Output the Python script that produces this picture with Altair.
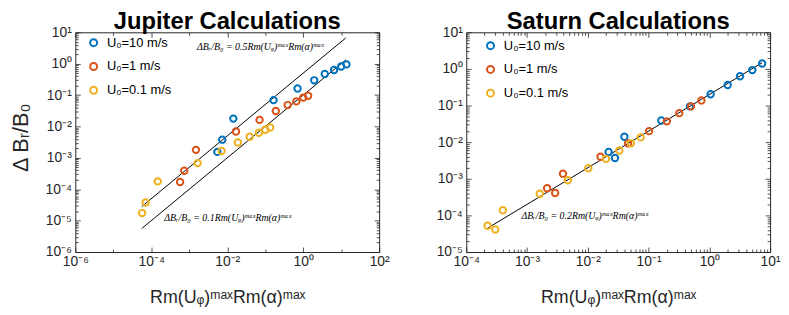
import altair as alt
import pandas as pd

# ---------------- data ----------------
series = ["U\u2080=10 m/s", "U\u2080=1 m/s", "U\u2080=0.1 m/s"]
colors = ["#0072BD", "#D95319", "#EDB120"]

# Jupiter
jup_x_10 = [5.5e-3, 7.4e-3, 1.45e-2, 0.166, 0.71, 1.95, 3.7, 6.5, 10.0, 13.8]
jup_y_10 = [1.55e-3, 3.8e-3, 1.78e-2, 6.9e-2, 0.162, 0.295, 0.468, 0.63, 0.81, 0.95]
jup_x_1 = [1.5e-3, 7.4e-4, 5.75e-4, 1.7e-2, 7.1e-2, 0.19, 0.39, 0.66, 1.0, 1.35]
jup_y_1 = [1.8e-3, 3.9e-4, 1.7e-4, 6.9e-3, 1.62e-2, 3.1e-2, 4.8e-2, 6.3e-2, 8.3e-2, 9.5e-2]
jup_x_01 = [5.75e-5, 7.1e-5, 1.48e-4, 1.66e-3, 7.1e-3, 1.9e-2, 3.9e-2, 6.8e-2, 0.1, 0.135]
jup_y_01 = [1.74e-5, 3.8e-5, 1.78e-4, 6.8e-4, 1.66e-3, 3.1e-3, 4.7e-3, 6.3e-3, 7.9e-3, 9.3e-3]

# Saturn
sat_x_10 = [2.2e-2, 2.8e-2, 4.0e-2, 0.162, 0.48, 1.05, 2.0, 3.2, 5.1, 7.4]
sat_y_10 = [5.4e-3, 3.7e-3, 1.4e-2, 3.9e-2, 9.5e-2, 0.204, 0.363, 0.63, 0.93, 1.41]
sat_x_1 = [2.14e-3, 2.9e-3, 3.9e-3, 1.62e-2, 4.6e-2, 0.102, 0.2, 0.32, 0.5, 0.74]
sat_y_1 = [5.5e-4, 4.1e-4, 1.38e-3, 4.0e-3, 9.3e-3, 2.0e-2, 3.7e-2, 6.2e-2, 9.5e-2, 0.138]
sat_x_01 = [2.24e-4, 3.0e-4, 4.0e-4, 1.62e-3, 4.7e-3, 1.02e-2, 2.0e-2, 3.3e-2, 5.1e-2, 7.4e-2]
sat_y_01 = [5.2e-5, 4.1e-5, 1.38e-4, 3.9e-4, 9.1e-4, 1.95e-3, 3.5e-3, 5.9e-3, 9.3e-3, 1.35e-2]

# fit lines: y = coef * x over [x_start, x_end]
jup_fit_coef = [0.5, 0.1]
jup_fit_x = [5.6e-5, 13.2]
sat_fit_coef = [0.2]
sat_fit_x = [2.24e-4, 7.4]

# annotation texts
ann_05 = "\u0394B\u1d63/B\u2080 = 0.5Rm(U\u1d69)\u1d50\u1d43\u02e3Rm(\u03b1)\u1d50\u1d43\u02e3"
ann_01 = "\u0394B\u1d63/B\u2080 = 0.1Rm(U\u1d69)\u1d50\u1d43\u02e3Rm(\u03b1)\u1d50\u1d43\u02e3"
ann_02 = "\u0394B\u1d63/B\u2080 = 0.2Rm(U\u1d69)\u1d50\u1d43\u02e3Rm(\u03b1)\u1d50\u1d43\u02e3"
jup_ann_text = [ann_05, ann_01]
jup_ann_x = [1.6e-3, 2.2e-4]
jup_ann_y = [3.5, 1.2e-5]
sat_ann_text = [ann_02]
sat_ann_x = [8.1e-4]
sat_ann_y = [9.5e-5]

titles = ["Jupiter Calculations", "Saturn Calculations"]
x_title = "Rm(U\u1d69)\u1d50\u1d43\u02e3Rm(\u03b1)\u1d50\u1d43\u02e3"
y_title = "\u0394 B\u1d63/B\u2080"

FONT = "Liberation Sans"
AX = "#262626"

SUP = {"-": "\u207b", "0": "\u2070", "1": "\u00b9", "2": "\u00b2", "3": "\u00b3",
       "4": "\u2074", "5": "\u2075", "6": "\u2076", "7": "\u2077", "8": "\u2078", "9": "\u2079"}


def sup(n):
    return "".join(SUP[c] for c in str(n))


def label_expr(exps):
    e = "round(log(datum.value)/LN10)"
    s = "''"
    for k in reversed(exps):
        s = f"{e} == {k} ? '10{sup(k)}' : ({s})"
    return s


def pts_df(xs_list, ys_list):
    rows = []
    for name, xs, ys in zip(series, xs_list, ys_list):
        for x, y in zip(xs, ys):
            rows.append({"x": x, "y": y, "series": name})
    return pd.DataFrame(rows)


def line_df(coefs, xr):
    rows = []
    for i, c in enumerate(coefs):
        for x in xr:
            rows.append({"x": x, "y": c * x, "fit": i})
    return pd.DataFrame(rows)


def minors(lo, hi):
    out = []
    for k in range(lo, hi):
        for m in range(2, 10):
            out.append(m * 10.0 ** k)
    return out


def major_axis(orient, exps, labels, title=None, labelpad=3, titlepad=6, title_size=16, title_y=None):
    vals = [10.0 ** k for k in exps]
    kw = dict(orient=orient, values=vals, tickSize=5, offset=-5, domain=False, grid=False,
              tickColor=AX, tickWidth=0.8, labels=labels, labelOverlap=False, labelFlush=False,
              labelBound=False)
    if labels:
        kw.update(labelExpr=label_expr(exps), labelFont=FONT, labelFontSize=14,
                  labelColor=AX, labelPadding=labelpad)
    if title:
        kw.update(title=title, titleFont=FONT, titleFontSize=title_size, titleFontWeight="normal",
                  titleColor=AX, titlePadding=titlepad)
        if title_y is not None:
            kw.update(titleY=title_y)
    else:
        kw.update(title=None)
    return alt.Axis(**kw)


def minor_axis(orient, vals):
    return alt.Axis(orient=orient, values=vals, tickSize=3, offset=-3, domain=False, grid=False,
                    tickColor=AX, tickWidth=0.8, labels=False, title=None)


def panel(pts, lines, ann, xdom, ydom, xmaj, xmin_vals, ymaj, ymin_vals, title, show_ytitle,
          leg_x, leg_y, w, h):
    xs = alt.Scale(type="log", domain=xdom, nice=False)
    ys = alt.Scale(type="log", domain=ydom, nice=False)

    points = alt.Chart(pts).mark_point(shape="circle", filled=False, size=42, strokeWidth=2, opacity=1).encode(
        x=alt.X("x:Q", scale=xs, axis=major_axis("bottom", xmaj, True, x_title, 3, 20, 18)),
        y=alt.Y("y:Q", scale=ys, axis=major_axis("left", ymaj, True,
                                                  y_title if show_ytitle else None, 4, 13, 22, 106)),
        color=alt.Color("series:N", scale=alt.Scale(domain=series, range=colors),
                        legend=alt.Legend(title=None, orient="none", legendX=leg_x, legendY=leg_y,
                                          symbolType="circle", symbolSize=50, symbolStrokeWidth=2,
                                          symbolFillColor="transparent",
                                          labelFont=FONT, labelFontSize=13, labelColor="#000",
                                          rowPadding=7, labelOffset=7, padding=0)),
    )

    fit = alt.Chart(lines).mark_line(color="black", strokeWidth=1).encode(
        x=alt.X("x:Q", scale=xs, axis=major_axis("top", xmaj, False)),
        y=alt.Y("y:Q", scale=ys, axis=major_axis("right", ymaj, False)),
        detail="fit:N",
    )

    text = alt.Chart(ann).mark_text(align="left", baseline="middle", font="Liberation Serif",
                                     fontStyle="italic", fontSize=10, color="black").encode(
        x=alt.X("x:Q", scale=xs, axis=minor_axis("bottom", xmin_vals)),
        y=alt.Y("y:Q", scale=ys, axis=minor_axis("left", ymin_vals)),
        text="text:N",
    )

    ghost = alt.Chart(lines).mark_line(opacity=0).encode(
        x=alt.X("x:Q", scale=xs, axis=minor_axis("top", xmin_vals)),
        y=alt.Y("y:Q", scale=ys, axis=minor_axis("right", ymin_vals)),
        detail="fit:N",
    )

    ttl = alt.Chart(pd.DataFrame({"t": [title]})).mark_text(
        align="center", baseline="alphabetic", font=FONT, fontSize=24, fontWeight="bold", color="black"
    ).encode(x=alt.value(w / 2), y=alt.value(-3), text="t:N")

    return alt.layer(fit, ghost, text, points, ttl).resolve_axis(
        x="independent", y="independent").properties(width=w, height=h)


jup_pts = pts_df([jup_x_10, jup_x_1, jup_x_01], [jup_y_10, jup_y_1, jup_y_01])
sat_pts = pts_df([sat_x_10, sat_x_1, sat_x_01], [sat_y_10, sat_y_1, sat_y_01])
jup_lines = line_df(jup_fit_coef, jup_fit_x)
sat_lines = line_df(sat_fit_coef, sat_fit_x)
jup_ann = pd.DataFrame({"x": jup_ann_x, "y": jup_ann_y, "text": jup_ann_text})
sat_ann = pd.DataFrame({"x": sat_ann_x, "y": sat_ann_y, "text": sat_ann_text})

left = panel(jup_pts, jup_lines, jup_ann, [1e-6, 1e2], [1e-6, 1e1],
             [-6, -4, -2, 0, 2], [1e-5, 1e-3, 1e-1, 1e1],
             [-6, -5, -4, -3, -2, -1, 0, 1], minors(-6, 1),
             titles[0], True, 12, 4, 307, 222)
right = panel(sat_pts, sat_lines, sat_ann, [1e-4, 1e1], [1e-5, 1e1],
              [-4, -3, -2, -1, 0, 1], minors(-4, 1),
              [-5, -4, -3, -2, -1, 0, 1], minors(-5, 1),
              titles[1], False, 18, 7, 307, 222)

chart = alt.hconcat(left, right, spacing=88, bounds="flush").resolve_scale(
    color="independent"
).configure_view(stroke=AX, strokeWidth=1).properties(
    padding={"left": 0, "top": 0, "right": 0, "bottom": 0}
)

chart.save("out.html", embed_options={"renderer": "svg", "actions": False})
